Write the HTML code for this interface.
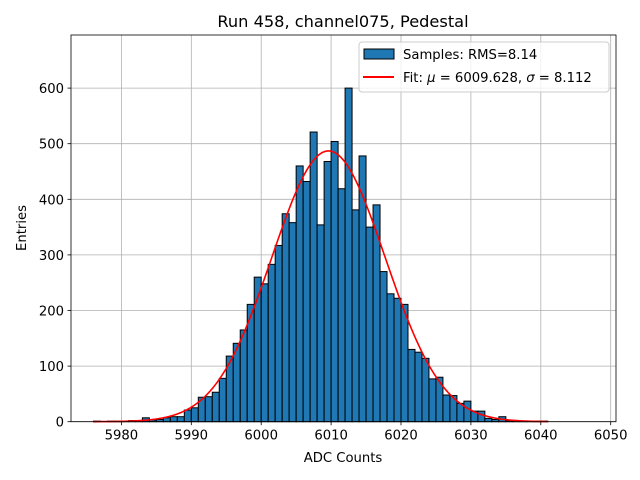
<!DOCTYPE html>
<html><head><meta charset="utf-8"><style>
body{margin:0;background:#fff;}
svg{display:block;font-family:"DejaVu Sans","Liberation Sans",sans-serif;}
</style></head><body>
<svg id="chart" width="640" height="480">
<rect x="0" y="0" width="640" height="480" fill="#fff"/>
<text x="343" y="27" font-size="16.2" text-anchor="middle">Run 458, channel075, Pedestal</text>
<g id="grid"></g><g id="bars"></g><g id="fit"></g><g id="axes"></g>
<text x="343" y="462" font-size="13.2" text-anchor="middle">ADC Counts</text>
<text x="26" y="228" font-size="13.2" text-anchor="middle" transform="rotate(-90 26 228)">Entries</text>
<g>
<rect x="359" y="42" width="250" height="50" rx="3" fill="#fff" fill-opacity="0.8" stroke="#ccc"/>
<rect x="364" y="49" width="30" height="10" fill="#1f77b4" stroke="#000"/>
<text x="403" y="59" font-size="13.2">Samples: RMS=8.14</text>
<line x1="363" y1="77" x2="394" y2="77" stroke="red" stroke-width="2"/>
<text x="403" y="82" font-size="13.2">Fit: <tspan font-style="italic">μ</tspan> = 6009.628, <tspan font-style="italic">σ</tspan> = 8.112</text>
</g>
</svg>
<script>
const binStarts=[5976,5977,5978,5979,5980,5981,5982,5983,5984,5985,5986,5987,5988,5989,5990,5991,5992,5993,5994,5995,5996,5997,5998,5999,6000,6001,6002,6003,6004,6005,6006,6007,6008,6009,6010,6011,6012,6013,6014,6015,6016,6017,6018,6019,6020,6021,6022,6023,6024,6025,6026,6027,6028,6029,6030,6031,6032,6033,6034,6035,6036,6037,6038,6039,6040];
const counts=[1,0,1,1,1,2,2,7,3,4,7,9,9,21,25,44,45,53,78,118,141,165,211,260,248,283,317,374,358,460,432,521,354,468,504,419,600,381,478,350,390,270,230,222,211,130,125,114,77,80,48,47,33,37,19,19,6,4,9,2,2,1,1,1,1];
const fitMu=6009.628, fitSigma=8.112, fitAmp=487;
const fitRange=[5976,6041];
const xTicks=[5980,5990,6000,6010,6020,6030,6040,6050];
const yTicks=[0,100,200,300,400,500,600];
const NS='http://www.w3.org/2000/svg';
const L=71,R=616,T=35,B=421.7;
const X0=5980,XPX=121.4,XS=6.99;
function xs(v){return XPX+(v-X0)*XS;}
function ys(v){return B-v*0.556;}
function mk(tag,attrs,parent){const e=document.createElementNS(NS,tag);for(const k in attrs)e.setAttribute(k,attrs[k]);parent.appendChild(e);return e;}
const grid=document.getElementById('grid'),bars=document.getElementById('bars'),fit=document.getElementById('fit'),axes=document.getElementById('axes');
xTicks.forEach(t=>{const x=xs(t);
const g=mk('line',{x1:x,x2:x,y1:T,y2:B,stroke:'#b0b0b0','stroke-width':0.8},grid);


mk('line',{x1:x,x2:x,y1:B,y2:B+3.5,stroke:'#000','stroke-width':0.8},axes);
const tx=mk('text',{x:x,y:B+18,'font-size':13.2,'text-anchor':'middle'},axes);tx.textContent=t;

});
yTicks.forEach(t=>{const y=ys(t);
const g=mk('line',{x1:L,x2:R,y1:y,y2:y,stroke:'#b0b0b0','stroke-width':0.8},grid);


mk('line',{x1:L-3.5,x2:L,y1:y,y2:y,stroke:'#000','stroke-width':0.8},axes);
const tx=mk('text',{x:L-7,y:y+5,'font-size':13.2,'text-anchor':'end'},axes);tx.textContent=t;

});
binStarts.forEach((b,i)=>{if(counts[i]<=0)return;const x1=xs(b),x2=xs(b+1),y=ys(counts[i]);
const r=mk('rect',{x:x1,y:y,width:x2-x1,height:B-y,fill:'#1f77b4',stroke:'#000','stroke-width':1},bars);

});
let d='';for(let v=fitRange[0];v<=fitRange[1];v+=0.25){const c=fitAmp*Math.exp(-0.5*Math.pow((v-fitMu)/fitSigma,2));d+=(d?'L':'M')+xs(v).toFixed(2)+','+ys(c).toFixed(2);}
const p=mk('path',{d:d,fill:'none',stroke:'red','stroke-width':1.6},fit);


const f=mk('rect',{x:L,y:T,width:R-L,height:B-T,fill:'none',stroke:'#000','stroke-width':0.8},axes);


</script>
</body></html>
